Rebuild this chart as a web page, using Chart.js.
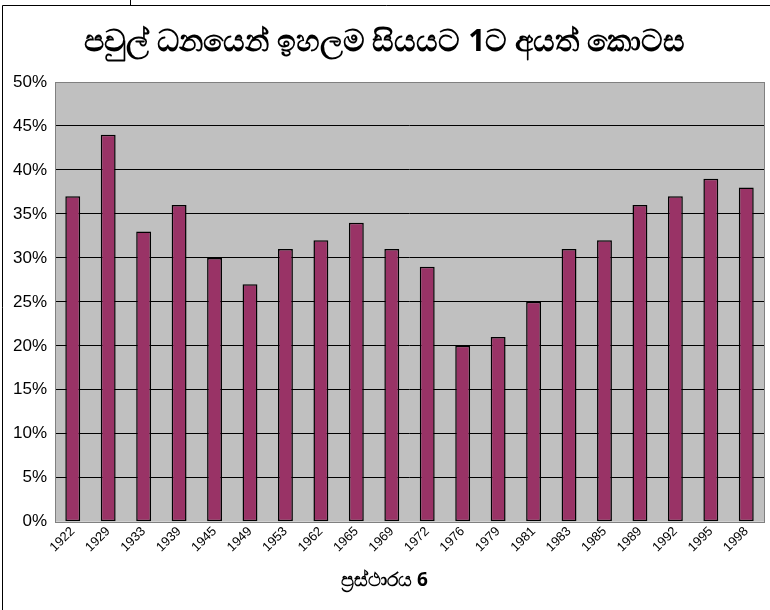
<!DOCTYPE html>
<html>
<head>
<meta charset="utf-8">
<script src="https://cdn.jsdelivr.net/npm/chart.js@4.4.1/dist/chart.umd.min.js"></script>
<style>
  html, body { margin: 0; padding: 0; background: #fff; }
  #wrap { width: 770px; height: 610px; position: relative; }
</style>
</head>
<body>
<div id="wrap"><canvas id="chart" width="770" height="610"></canvas></div>
<script>
// 데이터
const chartTitle = 'පවුල් ධනයෙන් ඉහලම සියයට 1ට අයත් කොටස';
const axisTitle = 'ප්‍රස්ථාරය 6';
const years = ['1922', '1929', '1933', '1939', '1945', '1949', '1953', '1962', '1965', '1969',
               '1972', '1976', '1979', '1981', '1983', '1985', '1989', '1992', '1995', '1998'];
const shares = [37, 44, 33, 36, 30, 27, 31, 32, 34, 31, 29, 20, 21, 25, 31, 32, 36, 37, 39, 38];

// 바깥 테두리 + 회색 플롯 배경
const framePlugin = {
    id: 'frame',
    beforeDraw(chart) {
        const ctx = chart.ctx;
        const a = chart.chartArea;
        ctx.save();
        ctx.fillStyle = '#fff';
        ctx.fillRect(0, 0, chart.width, chart.height);
        ctx.strokeStyle = '#000';
        ctx.lineWidth = 1;
        ctx.beginPath();
        ctx.moveTo(2.5, chart.height);
        ctx.lineTo(2.5, 5.5);
        ctx.lineTo(chart.width, 5.5);
        ctx.moveTo(130.5, 0);
        ctx.lineTo(130.5, 5.5);
        ctx.stroke();
        ctx.fillStyle = '#c0c0c0';
        ctx.fillRect(a.left, a.top, a.right - a.left, a.bottom - a.top);
        ctx.restore();
    },
    afterDatasetsDraw(chart) {
        const ctx = chart.ctx;
        const a = chart.chartArea;
        ctx.save();
        ctx.strokeStyle = '#808080';
        ctx.lineWidth = 1;
        ctx.strokeRect(Math.round(a.left) + 0.5, Math.round(a.top) + 0.5,
                       Math.round(a.right - a.left), Math.round(a.bottom - a.top));
        ctx.restore();
    }
};

new Chart(document.getElementById('chart').getContext('2d'), {
    type: 'bar',
    data: {
        labels: years,
        datasets: [{
            data: shares,
            backgroundColor: '#993366',
            borderColor: '#000',
            borderWidth: 1.5,
            borderSkipped: false,
            barPercentage: 0.84,
            categoryPercentage: 0.5
        }]
    },
    options: {
        responsive: false,
        animation: false,
        layout: {
            padding: { left: 5, right: 6, top: 0, bottom: 0 }
        },
        plugins: {
            legend: { display: false },
            tooltip: { enabled: false },
            title: {
                display: true,
                text: chartTitle,
                color: '#000',
                font: { family: 'Noto Sans, sans-serif', size: 30, weight: 'bold' },
                padding: { top: 24, bottom: 22 }
            },
            subtitle: {
                display: true,
                position: 'bottom',
                text: axisTitle,
                color: '#000',
                font: { family: 'Noto Sans, sans-serif', size: 19, weight: 'bold' },
                padding: { top: 12, bottom: 18 }
            }
        },
        scales: {
            y: {
                min: 0,
                max: 50,
                ticks: {
                    stepSize: 5,
                    color: '#000',
                    padding: 8,
                    font: { family: 'Liberation Sans, Arial, sans-serif', size: 17 },
                    callback: v => v + '%'
                },
                grid: {
                    drawTicks: false,
                    color: ctx => (ctx.index === 0 || ctx.index === 10) ? 'rgba(0,0,0,0)' : '#000'
                },
                border: { display: false }
            },
            x: {
                ticks: {
                    color: '#000',
                    minRotation: 45,
                    maxRotation: 45,
                    padding: 2,
                    font: { family: 'Liberation Sans, Arial, sans-serif', size: 13 }
                },
                grid: { display: false, drawTicks: false },
                border: { display: false }
            }
        }
    },
    plugins: [framePlugin]
});
</script>
</body>
</html>
